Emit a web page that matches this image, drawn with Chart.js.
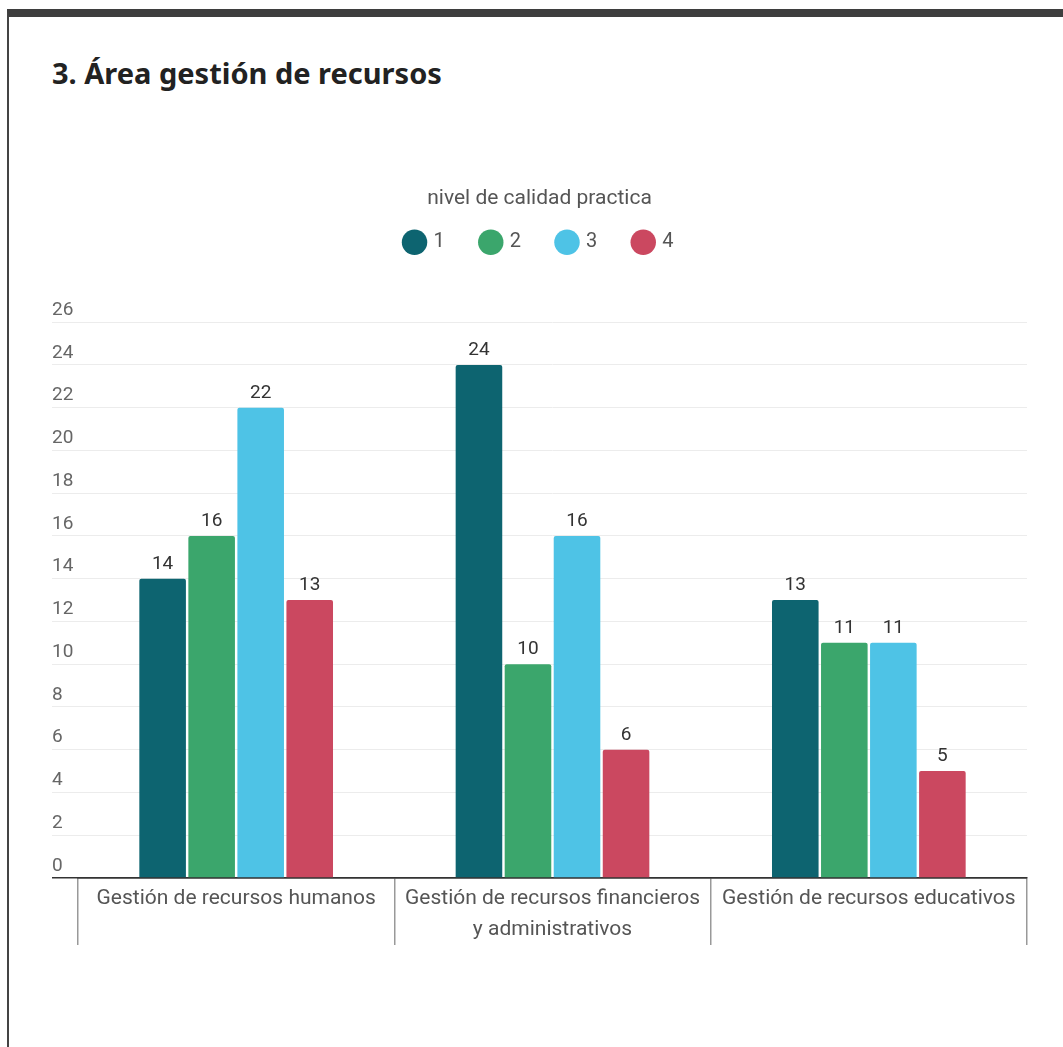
<!DOCTYPE html>
<html>
<head>
<meta charset="utf-8">
<script src="https://cdn.jsdelivr.net/npm/chart.js@4/dist/chart.umd.min.js"></script>
<style>
  html, body { margin: 0; padding: 0; background: #fff; }
  body { width: 1063px; height: 1047px; position: relative; overflow: hidden; font-family: Roboto, sans-serif; }
  .frame { position: absolute; left: 7px; top: 9px; right: -10px; bottom: -10px; border-top: 8px solid #3e3e3e; border-left: 2px solid #444; }
  h1 { position: absolute; left: 52px; top: 53px; margin: 0; font: 700 29px "Noto Sans", sans-serif; color: #222; }
  .wrap { position: absolute; left: 0; top: 170px; width: 1063px; height: 877px; }
</style>
</head>
<body>
<div class="frame"></div>
<h1>3. Área gestión de recursos</h1>
<div class="wrap"><canvas id="chart"></canvas></div>
<script>
// categories + series
const categories = [
    'Gestión de recursos humanos',
    ['Gestión de recursos financieros', 'y administrativos'],
    'Gestión de recursos educativos'
];
const seriesNames = ['1', '2', '3', '4'];
const level1 = [14, 24, 13];
const level2 = [16, 10, 11];
const level3 = [22, 16, 11];
const level4 = [13, 6, 5];
const colors = ['#0d6470', '#3ba66c', '#4ec3e6', '#cb4860'];
const yTicksMax = 26;
const yStep = 2;

const seriesValues = [level1, level2, level3, level4];

// value labels on top of each bar
const barValues = {
    id: 'barValues',
    afterDatasetsDraw(chart) {
        const ctx = chart.ctx;
        ctx.save();
        ctx.font = '19px Roboto';
        ctx.fillStyle = '#333';
        ctx.textAlign = 'center';
        ctx.textBaseline = 'bottom';
        chart.data.datasets.forEach((ds, i) => {
            chart.getDatasetMeta(i).data.forEach((bar, j) => {
                ctx.fillText(ds.data[j], bar.x, bar.y - 5);
            });
        });
        ctx.restore();
    }
};

new Chart(document.getElementById('chart'), {
    type: 'bar',
    data: {
        labels: categories,
        datasets: seriesValues.map((vals, i) => ({
            label: seriesNames[i],
            data: vals,
            backgroundColor: colors[i],
            borderRadius: { topLeft: 2, topRight: 2 },
            borderSkipped: 'start',
            barPercentage: 0.95,
            categoryPercentage: 0.62
        }))
    },
    options: {
        responsive: true,
        maintainAspectRatio: false,
        animation: false,
        layout: { padding: { top: 0, left: 52, right: 36, bottom: 79 } },
        plugins: {
            legend: {
                position: 'top',
                title: {
                    display: true,
                    text: 'nivel de calidad practica',
                    color: '#555',
                    font: { family: 'Roboto', size: 21 },
                    padding: { top: 18, bottom: -18 }
                },
                labels: {
                    usePointStyle: true,
                    pointStyle: 'circle',
                    boxWidth: 18,
                    boxHeight: 18,
                    color: '#555',
                    font: { family: 'Roboto', size: 20 },
                    padding: 37
                }
            },
            // empty spacer between legend and plot
            subtitle: {
                display: true,
                text: '',
                weight: 500,
                font: { size: 10 },
                padding: { top: 48, bottom: 0 }
            },
            tooltip: { enabled: false }
        },
        scales: {
            x: {
                grid: {
                    offset: true,
                    drawOnChartArea: false,
                    tickLength: 67,
                    color: '#999',
                    lineWidth: 1.5
                },
                border: { color: '#333', width: 1.5 },
                ticks: {
                    color: '#555',
                    font: { family: 'Roboto', size: 21, lineHeight: 1.45 },
                    padding: -61,
                    autoSkip: false,
                    maxRotation: 0
                },
                afterFit(axis) { axis.height = 90; }
            },
            y: {
                min: 0,
                max: yTicksMax,
                border: { display: false },
                grid: {
                    tickLength: 26,
                    color: c => c.tick && c.tick.value === 0 ? '#333' : '#ececec',
                    lineWidth: c => c.tick && c.tick.value === 0 ? 1.5 : 1
                },
                ticks: {
                    stepSize: yStep,
                    crossAlign: 'far',
                    labelOffset: -12,
                    color: '#666',
                    font: { family: 'Roboto', size: 19 }
                },
                afterFit(axis) { axis.width = 26; }
            }
        }
    },
    plugins: [barValues]
});
</script>
</body>
</html>
